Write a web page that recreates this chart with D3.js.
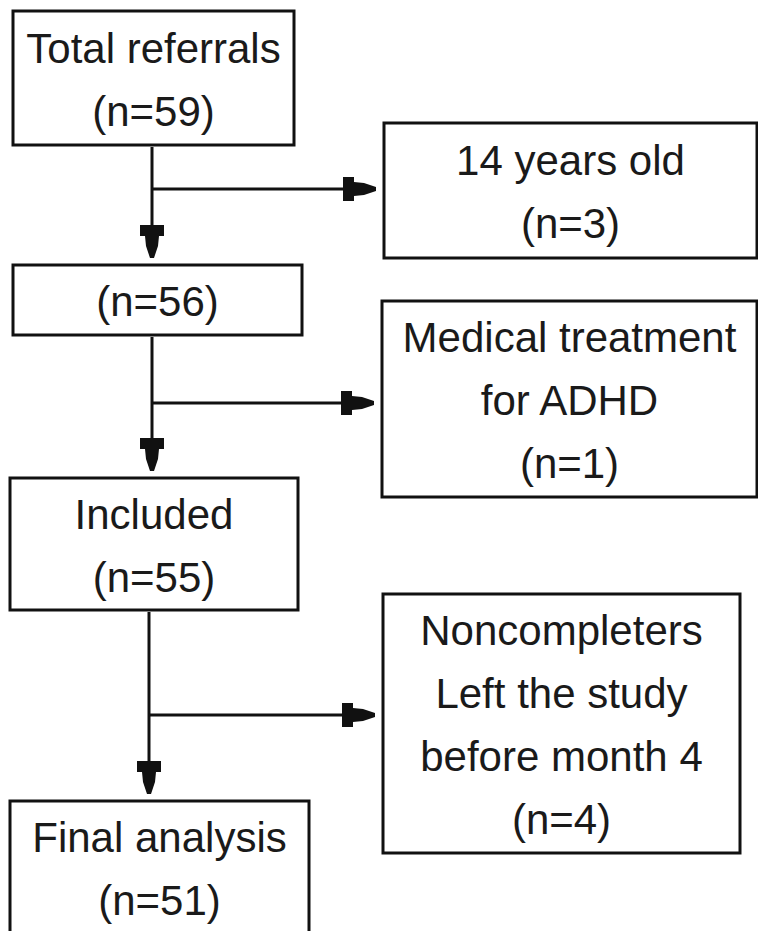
<!DOCTYPE html>
<html>
<head>
<meta charset="utf-8">
<script src="https://cdn.jsdelivr.net/npm/d3@7"></script>
<style>
  body { margin: 0; background: #fff; }
  text { font-family: "Liberation Sans", Arial, sans-serif; fill: #1a1a1a; }
</style>
</head>
<body>
<div id="chart-area"></div>
<script>

// Flow data
var mainLabels = [["Total referrals"], [], ["Included"], ["Final analysis"]];
var mainCounts = [59, 56, 55, 51];
var exclLabels = [["14 years old"], ["Medical treatment", "for ADHD"], ["Noncompleters", "Left the study", "before month 4"]];
var exclCounts = [3, 1, 4];

// Layout (box edges in px)
var mainBoxes = [
	{x0: 13, x1: 294, y0: 11, y1: 145},
	{x0: 13, x1: 302, y0: 265, y1: 335},
	{x0: 10, x1: 298, y0: 478, y1: 610},
	{x0: 10, x1: 309, y0: 801, y1: 934}
];
var exclBoxes = [
	{x0: 384, x1: 757, y0: 123, y1: 258},
	{x0: 382, x1: 757, y0: 301, y1: 497},
	{x0: 383, x1: 740, y0: 594, y1: 853}
];
var stemX = [152, 152, 149];
var branchY = [189, 403, 715];

var width = 758, height = 931;
var fontSize = 42, lineH = 63;

var svg = d3.select("#chart-area").append("svg")
	.attr("width", width)
	.attr("height", height);

// Merge data into nodes
var mainNodes = mainCounts.map(function(n, i){
	return {lines: mainLabels[i].concat(["(n=" + n + ")"]), box: mainBoxes[i]};
});
var exclNodes = exclCounts.map(function(n, i){
	return {lines: exclLabels[i].concat(["(n=" + n + ")"]), box: exclBoxes[i]};
});
var nodes = mainNodes.concat(exclNodes);

// Boxes
var g = svg.selectAll(".node").data(nodes).enter().append("g")
	.attr("class", "node");

g.append("rect")
	.attr("x", function(d){ return d.box.x0; })
	.attr("y", function(d){ return d.box.y0; })
	.attr("width", function(d){ return d.box.x1 - d.box.x0; })
	.attr("height", function(d){ return d.box.y1 - d.box.y0; })
	.attr("fill", "#fff")
	.attr("stroke", "#111")
	.attr("stroke-width", 3);

g.each(function(d){
	var cx = (d.box.x0 + d.box.x1) / 2;
	var cy = (d.box.y0 + d.box.y1) / 2;
	var k = d.lines.length;
	d3.select(this).selectAll("text").data(d.lines).enter().append("text")
		.attr("x", cx)
		.attr("y", function(t, j){ return cy + (j - (k - 1) / 2) * lineH + 16; })
		.attr("text-anchor", "middle")
		.attr("font-size", fontSize)
		.text(function(t){ return t; });
});

// Blocky arrow head, pointing right with tip at (0,0)
function headPath() {
	return "M-33,-12 L-22,-12 L-22,-7 L-12,-6 L0,-2 L0,2 L-12,6 L-22,7 L-22,12 L-33,12 Z";
}

var line = d3.line();

// Connectors
d3.range(3).forEach(function(i){
	var top = mainBoxes[i], next = mainBoxes[i + 1], side = exclBoxes[i];
	var x = stemX[i], by = branchY[i];
	var tipY = next.y0 - 7;
	var tipX = side.x0 - 8;

	svg.append("path")
		.attr("d", line([[x, top.y1 + 2], [x, tipY - 20]]))
		.attr("stroke", "#111").attr("stroke-width", 3).attr("fill", "none");
	svg.append("path")
		.attr("d", line([[x, by], [tipX - 20, by]]))
		.attr("stroke", "#111").attr("stroke-width", 3).attr("fill", "none");

	svg.append("path")
		.attr("d", headPath())
		.attr("transform", "translate(" + x + "," + tipY + ") rotate(90)")
		.attr("fill", "#111");
	svg.append("path")
		.attr("d", headPath())
		.attr("transform", "translate(" + tipX + "," + by + ")")
		.attr("fill", "#111");
});

</script>
</body>
</html>
